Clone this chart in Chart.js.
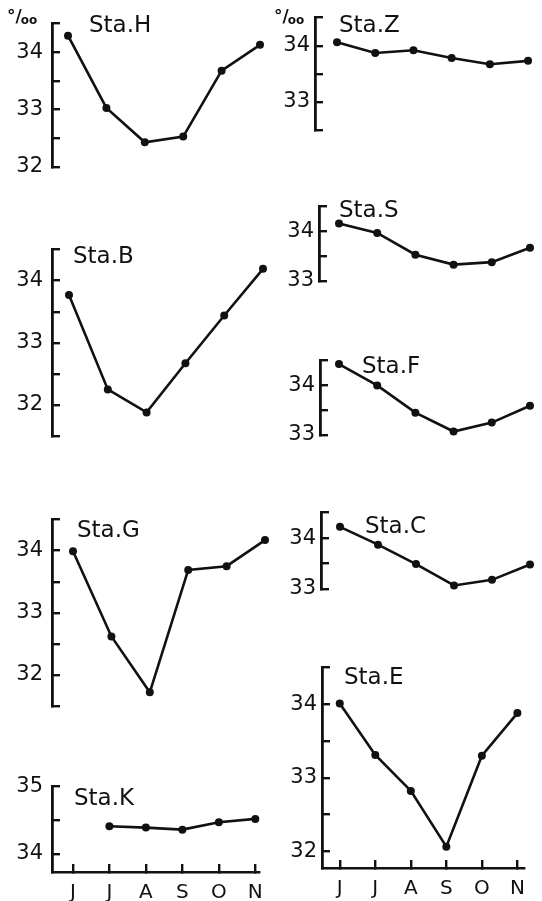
<!DOCTYPE html>
<html>
<head>
<meta charset="utf-8">
<script src="https://cdn.jsdelivr.net/npm/chart.js@4.4.1/dist/chart.umd.min.js"></script>
<style>
  html, body { margin: 0; padding: 0; background: #fff; }
  #wrap { position: relative; width: 542px; height: 901px; overflow: hidden; }
  #wrap canvas { position: absolute; }
</style>
</head>
<body>
<div id="wrap"></div>
<script>
// salinity (per mille), months June .. November
const months = ['J', 'J', 'A', 'S', 'O', 'N']

const staH = [34.29, 33.03, 32.43, 32.53, 33.68, 34.13]
const staB = [33.77, 32.25, 31.88, 32.67, 33.44, 34.19]
const staG = [33.99, 32.62, 31.72, 33.69, 33.75, 34.17]
const staK = [null, 34.41, 34.39, 34.36, 34.47, 34.52]
const staZ = [34.06, 33.87, 33.92, 33.78, 33.67, 33.73]
const staS = [34.16, 33.97, 33.53, 33.33, 33.38, 33.67]
const staF = [34.43, 34.00, 33.45, 33.07, 33.25, 33.59]
const staC = [34.22, 33.87, 33.49, 33.07, 33.18, 33.48]
const staE = [34.01, 33.31, 32.82, 32.06, 33.30, 33.88]

// panel layout (page pixels for the axis frame, scale ranges)
const panels = [
  {name: 'Sta.H', data: staH, col: 0, axisX: 52, top: 10, bottom: 197, yMin: 32, yMax: 34.5, xMin: -0.417, xMax: 5.26, nameAt: [89, 32], unitAt: [7, 24]},
  {name: 'Sta.B', data: staB, col: 0, axisX: 52, top: 236, bottom: 466, yMin: 31.5, yMax: 34.5, xMin: -0.438, xMax: 5.18, nameAt: [73, 263]},
  {name: 'Sta.G', data: staG, col: 0, axisX: 52, top: 506, bottom: 736, yMin: 31.5, yMax: 34.5, xMin: -0.547, xMax: 5.13, nameAt: [77, 537]},
  {name: 'Sta.K', data: staK, col: 0, axisX: 52, top: 773, bottom: 872, yMin: 33.73, yMax: 35, xMin: -0.573, xMax: 5.104, nameAt: [74, 805], xAxis: true},
  {name: 'Sta.Z', data: staZ, col: 1, axisX: 315, top: 8, bottom: 160, yMin: 32.5, yMax: 34.5, xMin: -0.576, xMax: 5.26, nameAt: [339, 32], unitAt: [274, 24]},
  {name: 'Sta.S', data: staS, col: 1, axisX: 319, top: 197, bottom: 311, yMin: 33, yMax: 34.5, xMin: -0.524, xMax: 5.21, nameAt: [339, 217]},
  {name: 'Sta.F', data: staF, col: 1, axisX: 320, top: 351, bottom: 465, yMin: 33, yMax: 34.5, xMin: -0.497, xMax: 5.21, nameAt: [362, 373]},
  {name: 'Sta.C', data: staC, col: 1, axisX: 321, top: 503, bottom: 619, yMin: 33, yMax: 34.5, xMin: -0.5, xMax: 5.21, nameAt: [365, 533]},
  {name: 'Sta.E', data: staE, col: 1, axisX: 322, top: 658, bottom: 868, yMin: 31.77, yMax: 34.5, xMin: -0.5, xMax: 5.18, nameAt: [344, 684], xAxis: true}
]

const ink = '#111'
Chart.defaults.font.family = "'DejaVu Sans', sans-serif"
Chart.defaults.color = ink

// station name and unit sign drawn as text inside each panel
const stationLabels = {
  id: 'stationLabels',
  afterDraw(chart, args, opts) {
    const ctx = chart.ctx
    ctx.save()
    ctx.fillStyle = ink
    ctx.textBaseline = 'alphabetic'
    ctx.textAlign = 'left'
    ctx.font = "23px 'DejaVu Sans'"
    ctx.fillText(opts.name, opts.nameAt[0] - opts.left, opts.nameAt[1] - opts.canvasTop)
    if (opts.unitAt) {
      const ux = opts.unitAt[0] - opts.left, uy = opts.unitAt[1] - opts.canvasTop
      ctx.font = "bold 17px 'DejaVu Sans'"
      ctx.fillText('°/', ux, uy - 2)
      const w = ctx.measureText('°/').width
      ctx.font = "bold 12px 'DejaVu Sans'"
      ctx.fillText('oo', ux + w - 1, uy)
    }
    ctx.restore()
  }
}

const wrap = document.getElementById('wrap')
const padTop = 16

panels.forEach(p => {
  const left = p.col === 0 ? 0 : 270
  const width = p.col === 0 ? 280 : 272
  const padRight = p.col === 0 ? 10 : 4
  const xAxisH = 30
  const padBottom = p.xAxis ? 4 : 16
  const height = (p.bottom - p.top) + padTop + padBottom + (p.xAxis ? xAxisH : 0)
  const canvasTop = p.top - padTop

  const canvas = document.createElement('canvas')
  canvas.width = width
  canvas.height = height
  canvas.style.left = left + 'px'
  canvas.style.top = canvasTop + 'px'
  canvas.style.width = width + 'px'
  canvas.style.height = height + 'px'
  wrap.appendChild(canvas)

  const points = []
  for (let i = 0; i < p.data.length; i++) {
    if (p.data[i] !== null) points.push({x: i, y: p.data[i]})
  }

  new Chart(canvas, {
    type: 'line',
    data: {
      datasets: [{
        data: points,
        borderColor: ink,
        borderWidth: 2.6,
        pointRadius: 4,
        pointBackgroundColor: ink,
        pointBorderColor: ink,
        pointBorderWidth: 0,
        tension: 0,
        clip: false
      }]
    },
    options: {
      responsive: false,
      animation: false,
      devicePixelRatio: 1,
      layout: {padding: {top: padTop, bottom: padBottom, left: 0, right: padRight}},
      plugins: {
        legend: {display: false},
        tooltip: {enabled: false},
        stationLabels: {name: p.name, nameAt: p.nameAt, unitAt: p.unitAt, left: left, canvasTop: canvasTop}
      },
      scales: {
        x: {
          type: 'linear',
          position: 'bottom',
          min: p.xMin,
          max: p.xMax,
          display: !!p.xAxis,
          afterFit: s => { s.height = xAxisH },
          border: {display: true, width: 2.6, color: ink},
          grid: {drawOnChartArea: false, tickLength: -8, lineWidth: 2.4, color: ink, tickColor: ink},
          ticks: {
            stepSize: 1,
            includeBounds: false,
            autoSkip: false,
            maxRotation: 0,
            padding: 17,
            font: {size: 20},
            color: ink,
            callback: v => months[v] ?? ''
          }
        },
        y: {
          type: 'linear',
          position: 'left',
          min: p.yMin,
          max: p.yMax,
          afterFit: s => { s.width = p.axisX - left },
          border: {display: true, width: 2.8, color: ink},
          grid: {drawOnChartArea: false, tickLength: -8, lineWidth: 2.4, color: ink, tickColor: ink},
          ticks: {
            stepSize: 0.5,
            includeBounds: false,
            autoSkip: false,
            padding: p.col === 0 ? 17 : 13,
            font: {size: 21},
            color: ink,
            callback: v => Math.abs(v - Math.round(v)) < 1e-6 ? String(Math.round(v)) : ''
          }
        }
      }
    },
    plugins: [stationLabels]
  })
})
</script>
</body>
</html>
